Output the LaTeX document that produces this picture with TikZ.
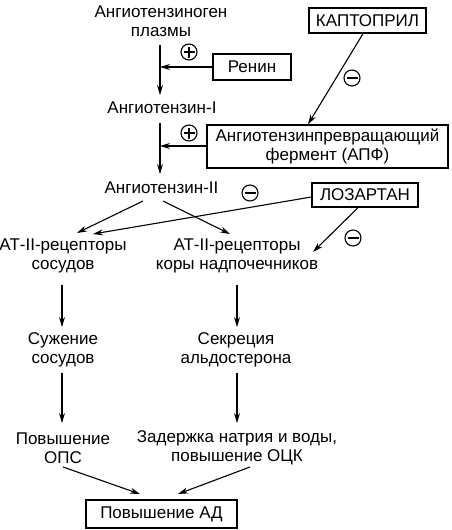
\documentclass[tikz,border=0pt]{standalone}
\usepackage{fontspec}
\setmainfont{Liberation Sans}
\usetikzlibrary{arrows.meta}
\begin{document}
\begin{tikzpicture}[x=1pt,y=-1pt,
  txt/.style={align=center,font=\fontsize{17}{19.5}\selectfont,inner sep=0pt},
  boxed/.style={draw,line width=1.3pt,align=center,font=\fontsize{17}{19.5}\selectfont,inner sep=0pt},
  arr/.style={line width=1.1pt,-{Stealth[length=10pt,width=6pt]}},
  sgn/.style={circle,draw,line width=1.1pt,minimum size=16pt,inner sep=0pt},
  plus/.style={sgn,path picture={\draw[line width=1.1pt] ([xshift=-5.5pt]path picture bounding box.center) -- ([xshift=5.5pt]path picture bounding box.center);
     \draw[line width=1.1pt] ([yshift=-5.5pt]path picture bounding box.center) -- ([yshift=5.5pt]path picture bounding box.center);}},
  minus/.style={sgn,path picture={\draw[line width=1.1pt] ([xshift=-5.5pt]path picture bounding box.center) -- ([xshift=5.5pt]path picture bounding box.center);}}
]
\useasboundingbox (0,0) rectangle (452,530);
% nodes
\node[txt] (agen) at (161,21) {Ангиотензиноген\\плазмы};
\node[boxed,minimum width=78pt,minimum height=26pt] (renin) at (252,67) {Ренин};
\node[boxed,minimum width=117pt,minimum height=25pt] (capt) at (367.5,20.5) {КАПТОПРИЛ};
\node[txt] (a1) at (162,108) {Ангиотензин-I};
\node[boxed,minimum width=241pt,minimum height=43pt] (ace) at (327.5,146.5) {Ангиотензинпревращающий\\фермент (АПФ)};
\node[txt] (a2) at (161.5,188) {Ангиотензин-II};
\node[boxed,minimum width=106pt,minimum height=24pt] (losa) at (365,195) {ЛОЗАРТАН};
\node[txt] (rv) at (63,256) {АТ-II-рецепторы\\сосудов};
\node[txt] (ra) at (237,256) {АТ-II-рецепторы\\коры надпочечников};
\node[txt] (sv) at (63,350) {Сужение\\сосудов};
\node[txt] (sa) at (236,350) {Секреция\\альдостерона};
\node[txt] (ops) at (63,448) {Повышение\\ОПС};
\node[txt] (ock) at (237,448) {Задержка натрия и воды,\\повышение ОЦК};
\node[boxed,minimum width=151pt,minimum height=28pt] (ad) at (161.5,514) {Повышение АД};
% signs
\node[plus] (p1) at (189,52) {};
\node[plus] (p2) at (189,133) {};
\node[minus] (m1) at (352,78) {};
\node[minus] (m2) at (250,193) {};
\node[minus] (m3) at (353,238) {};
% coordinates
\coordinate (v1a) at (160,45);
\coordinate (v1b) at (160,95);
\coordinate (v2a) at (160,123);
\coordinate (v2b) at (160,174);
\coordinate (j1) at (160,67);
\coordinate (j2) at (160,146);
% connectors
\draw[arr] (v1a) -- (v1b);
\draw[arr] (v2a) -- (v2b);
\draw[arr] (renin.west) -- (j1);
\draw[arr] (ace.west |- j2) -- (j2);
\draw[arr] (capt.south -| 363,0) -- (ace.north -| 308,0);
\draw[arr] (143,201) -- (77,233);
\draw[arr] (163,201) -- (230,234);
\draw[arr] (losa.west) ++(0,2) -- (93,234);
\draw[arr] (losa.south -| 358,0) -- (313,252);
\draw[arr] (62,285) -- (62,327);
\draw[arr] (237,285) -- (237,327);
\draw[arr] (62,373) -- (62,423);
\draw[arr] (237,373) -- (237,423);
\draw[arr] (63,467) -- (140,494);
\draw[arr] (250,467) -- (178,494);
\end{tikzpicture}
\end{document}
